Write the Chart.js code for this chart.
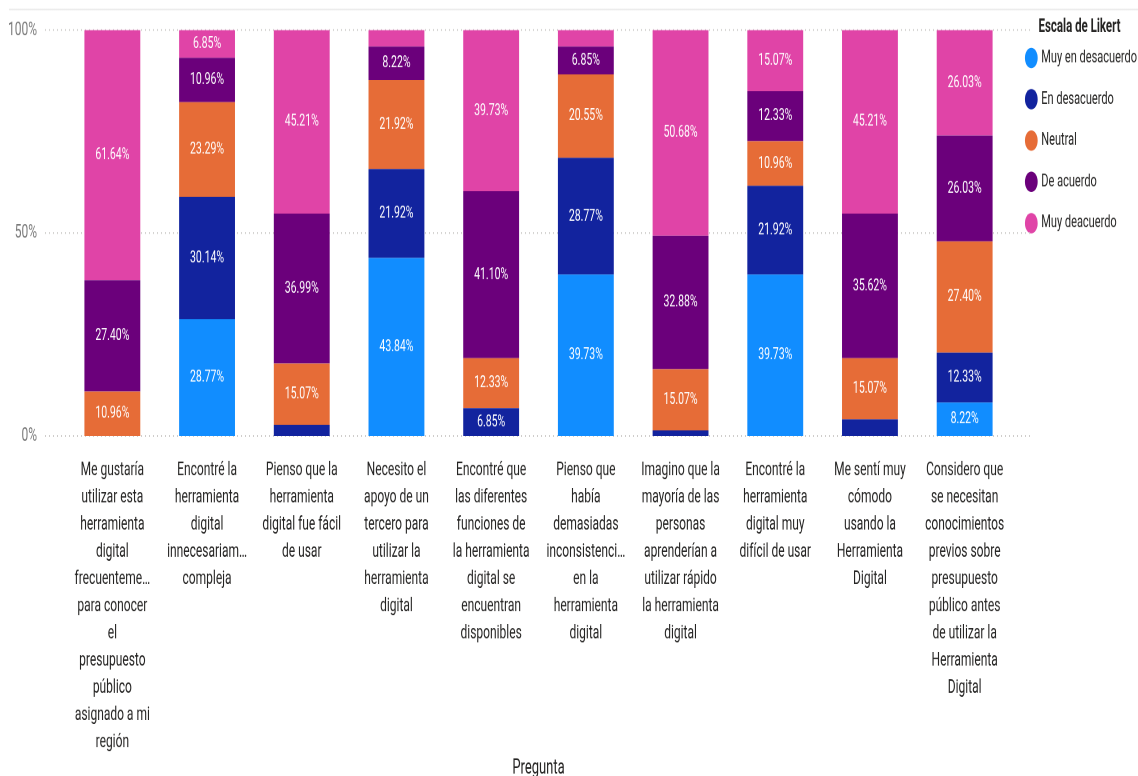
<!DOCTYPE html>
<html lang="es">
<head>
<meta charset="utf-8">
<title>Escala de Likert por pregunta</title>
<script src="https://cdn.jsdelivr.net/npm/chart.js@4.4.1/dist/chart.umd.min.js"></script>
<style>
    html, body { margin: 0; padding: 0; background: #fff; overflow: hidden; }
    #page { width: 1138px; height: 776px; position: relative; overflow: hidden; }
    /* the visual is drawn in a shorter box and stretched to the page height */
    #wrap {
        width: 1138px; height: 485px; position: absolute; left: 0; top: 0;
        transform: scaleY(1.6); transform-origin: 0 0;
    }
    #topEdge {
        position: absolute; left: 9px; right: 0; top: 8px; height: 3px;
        background: linear-gradient(#fff, #ececec, #fff);
    }
</style>
</head>
<body>
<div id="page">
    <div id="topEdge"></div>
    <div id="wrap"><canvas id="chartLikert" width="1138" height="485"></canvas></div>
</div>
<script>
const FONT = "Roboto, 'DejaVu Sans Condensed', sans-serif";

// Preguntas (texto partido en líneas como en el eje)
const preguntas = [
    ["Me gustaría", "utilizar esta", "herramienta", "digital", "frecuenteme…", "para conocer", "el", "presupuesto", "público", "asignado a mi", "región"],
    ["Encontré la", "herramienta", "digital", "innecesariam…", "compleja"],
    ["Pienso que la", "herramienta", "digital fue fácil", "de usar"],
    ["Necesito el", "apoyo de un", "tercero para", "utilizar la", "herramienta", "digital"],
    ["Encontré que", "las diferentes", "funciones de", "la herramienta", "digital se", "encuentran", "disponibles"],
    ["Pienso que", "había", "demasiadas", "inconsistenci…", "en la", "herramienta", "digital"],
    ["Imagino que la", "mayoría de las", "personas", "aprenderían a", "utilizar rápido", "la herramienta", "digital"],
    ["Encontré la", "herramienta", "digital muy", "difícil de usar"],
    ["Me sentí muy", "cómodo", "usando la", "Herramienta", "Digital"],
    ["Considero que", "se necesitan", "conocimientos", "previos sobre", "presupuesto", "público antes", "de utilizar la", "Herramienta", "Digital"]
];

// Porcentaje de respuestas por nivel
const muyEnDesacuerdo = [0, 28.77, 0, 43.84, 0, 39.73, 0, 39.73, 0, 8.22];
const enDesacuerdo    = [0, 30.14, 2.74, 21.92, 6.85, 28.77, 1.37, 21.92, 4.11, 12.33];
const neutral         = [10.96, 23.29, 15.07, 21.92, 12.33, 20.55, 15.07, 10.96, 15.07, 27.40];
const deAcuerdo       = [27.40, 10.96, 36.99, 8.22, 41.10, 6.85, 32.88, 12.33, 35.62, 26.03];
const muyDeAcuerdo    = [61.64, 6.85, 45.21, 4.11, 39.73, 4.11, 50.68, 15.07, 45.21, 26.03];

const yTicks = [0, 50, 100];

// Líneas punteadas de la cuadrícula, un poco más anchas que el área del gráfico
const dottedGrid = {
    id: "dottedGrid",
    beforeDatasetsDraw(chart) {
        const { ctx, chartArea, scales } = chart;
        ctx.save();
        ctx.strokeStyle = "#c8c6c4";
        ctx.lineWidth = 1;
        ctx.setLineDash([1, 3]);
        yTicks.forEach(t => {
            const y = scales.y.getPixelForValue(t);
            ctx.beginPath();
            ctx.moveTo(chartArea.left - 20, y);
            ctx.lineTo(chartArea.right + 18, y);
            ctx.stroke();
        });
        ctx.restore();
    }
};

// Etiquetas de valor dentro de cada segmento
const segmentLabels = {
    id: "segmentLabels",
    afterDatasetsDraw(chart) {
        const { ctx } = chart;
        ctx.save();
        ctx.fillStyle = "#ffffff";
        ctx.font = "10.5px " + FONT;
        ctx.textAlign = "center";
        ctx.textBaseline = "middle";
        chart.data.datasets.forEach((ds, i) => {
            const meta = chart.getDatasetMeta(i);
            meta.data.forEach((bar, j) => {
                const v = ds.data[j];
                if (v < 5) return;
                ctx.fillText(v.toFixed(2) + "%", bar.x, (bar.y + bar.base) / 2);
            });
        });
        ctx.restore();
    }
};

new Chart(document.getElementById("chartLikert"), {
    type: "bar",
    data: {
        labels: preguntas,
        datasets: [
            { label: "Muy en desacuerdo", data: muyEnDesacuerdo, backgroundColor: "#118dff" },
            { label: "En desacuerdo", data: enDesacuerdo, backgroundColor: "#12239e" },
            { label: "Neutral", data: neutral, backgroundColor: "#e66c37" },
            { label: "De acuerdo", data: deAcuerdo, backgroundColor: "#6b007b" },
            { label: "Muy deacuerdo", data: muyDeAcuerdo, backgroundColor: "#e044a7" }
        ]
    },
    options: {
        responsive: false,
        animation: false,
        devicePixelRatio: 2,
        datasets: {
            bar: { categoryPercentage: 1, barPercentage: 0.59, borderWidth: 0 }
        },
        layout: { padding: { top: 0, left: 0, right: -9, bottom: 0 } },
        plugins: {
            tooltip: { enabled: false },
            legend: {
                position: "right",
                align: "start",
                title: {
                    display: true,
                    position: "center",
                    text: "Escala de Likert",
                    color: "#252423",
                    font: { family: FONT, size: 11.5, weight: "bold" },
                    padding: { top: 11.15, bottom: -9.0 }
                },
                labels: {
                    usePointStyle: true,
                    pointStyle: "circle",
                    boxWidth: 9,
                    boxHeight: 9,
                    padding: 14.8,
                    color: "#252423",
                    font: { family: FONT, size: 11 }
                }
            }
        },
        scales: {
            x: {
                stacked: true,
                grid: { display: false },
                border: { display: false },
                ticks: {
                    autoSkip: false,
                    maxRotation: 0,
                    minRotation: 0,
                    padding: 4.8,
                    color: "#252423",
                    font: { family: FONT, size: 12, lineHeight: 1.42 }
                },
                title: {
                    display: true,
                    text: "Pregunta",
                    color: "#252423",
                    padding: { top: 0, bottom: -3.2 },
                    font: { family: FONT, size: 13 }
                },
                afterFit(scale) {
                    scale.height = 212.5;
                    scale.paddingTop = 0;
                    scale.paddingBottom = 0;
                }
            },
            y: {
                stacked: true,
                min: 0,
                max: 100,
                grid: { display: false },
                border: { display: false },
                afterFit(scale) {
                    // reserve the space above the plot here so the legend can start higher
                    scale.width = 65;
                    scale.paddingTop = 18.75;
                    scale.paddingBottom = 0;
                },
                afterBuildTicks(scale) { scale.ticks = yTicks.map(v => ({ value: v })); },
                ticks: {
                    padding: 20,
                    color: "#7a7a7a",
                    font: { family: FONT, size: 12 },
                    callback: v => v + "%"
                }
            }
        }
    },
    plugins: [dottedGrid, segmentLabels]
});
</script>
</body>
</html>
